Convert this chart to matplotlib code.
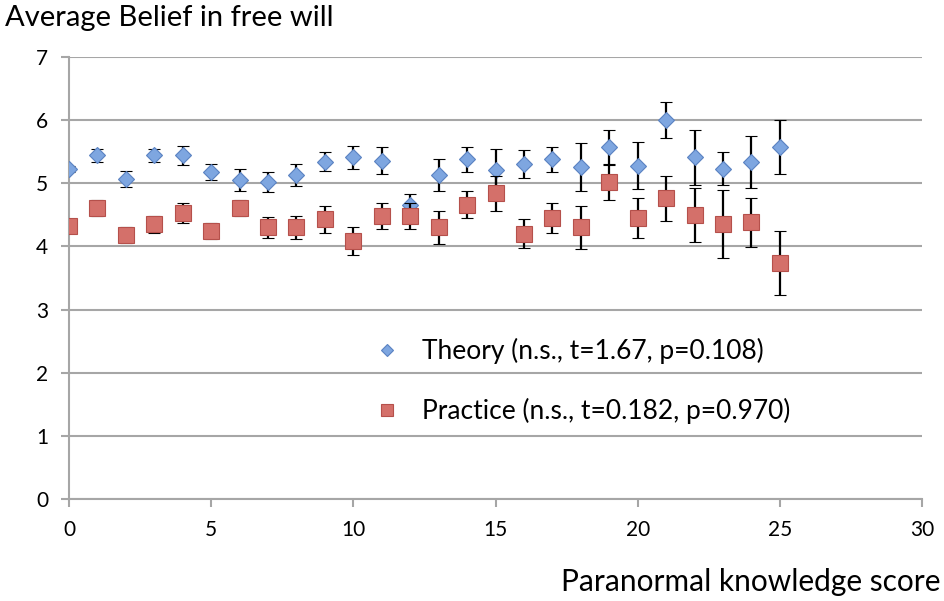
import matplotlib
matplotlib.use("Agg")
import matplotlib.pyplot as plt
import numpy as np

# paranormal knowledge score
scores = np.arange(0, 26)

theory_mean = [5.23, 5.44, 5.07, 5.44, 5.44, 5.18, 5.05, 5.02, 5.13, 5.34,
               5.41, 5.36, 4.65, 5.13, 5.38, 5.21, 5.31, 5.38, 5.25, 5.57,
               5.28, 6.00, 5.41, 5.23, 5.34, 5.57]
theory_err = [0.05, 0.10, 0.13, 0.10, 0.15, 0.13, 0.18, 0.16, 0.18, 0.15,
              0.18, 0.21, 0.18, 0.25, 0.20, 0.33, 0.22, 0.20, 0.38, 0.28,
              0.37, 0.28, 0.44, 0.26, 0.41, 0.43]

practice_mean = [4.32, 4.61, 4.18, 4.35, 4.53, 4.24, 4.61, 4.30, 4.30, 4.43,
                 4.09, 4.48, 4.48, 4.30, 4.66, 4.84, 4.20, 4.45, 4.30, 5.02,
                 4.45, 4.76, 4.50, 4.36, 4.38, 3.74]
practice_err = [0.03, 0.13, 0.13, 0.13, 0.16, 0.13, 0.13, 0.16, 0.18, 0.21,
                0.22, 0.21, 0.21, 0.26, 0.21, 0.28, 0.23, 0.24, 0.34, 0.29,
                0.32, 0.36, 0.43, 0.54, 0.39, 0.51]

theory_label = "Theory (n.s., t=1.67, p=0.108)"
practice_label = "Practice (n.s., t=0.182, p=0.970)"

plt.rcParams["font.family"] = ["Lato", "DejaVu Sans"]

fig = plt.figure(figsize=(9.45, 6.01), dpi=100)
ax = fig.add_axes([0.073, 0.1697, 0.9027, 0.7355])

err_style = dict(ecolor="black", elinewidth=1.6, capsize=4.5, capthick=1.6, linestyle="none")

ax.errorbar(scores, theory_mean, yerr=theory_err, fmt="D", markersize=8.5,
            markerfacecolor="#7ea6e0", markeredgecolor="#5a82c2", markeredgewidth=0.8,
            label=theory_label, zorder=3, **err_style)
ax.errorbar(scores, practice_mean, yerr=practice_err, fmt="s", markersize=12,
            markerfacecolor="#d4706a", markeredgecolor="#b5504b", markeredgewidth=0.8,
            label=practice_label, zorder=4, **err_style)

ax.set_xlim(0, 30)
ax.set_ylim(0, 7)
ax.set_xticks(range(0, 31, 5))
ax.set_yticks(range(0, 8))
ax.yaxis.grid(True, color="#a6a6a6", linewidth=1.5)
ax.set_axisbelow(True)
for side in ("top", "right"):
    ax.spines[side].set_visible(False)
for side in ("left", "bottom"):
    ax.spines[side].set_color("#a6a6a6")
    ax.spines[side].set_linewidth(1.5)
ax.tick_params(axis="both", direction="out", color="#a6a6a6", width=1.5, length=6,
               labelsize=15, pad=9)

fig.text(0.005, 0.97, "Average Belief in free will", fontsize=21, ha="left", va="center")
fig.text(0.995, 0.032, "Paranormal knowledge score", fontsize=21.5, ha="right", va="center")

handles, labels = ax.get_legend_handles_labels()
handles = [h[0] for h in handles]
ax.legend(handles, labels, loc="center left", bbox_to_anchor=(0.33, 0.267), frameon=False,
          fontsize=19, markerscale=0.75, labelspacing=1.3, handletextpad=0.8,
          handlelength=1.0)

fig.savefig("out.png", dpi=100)
